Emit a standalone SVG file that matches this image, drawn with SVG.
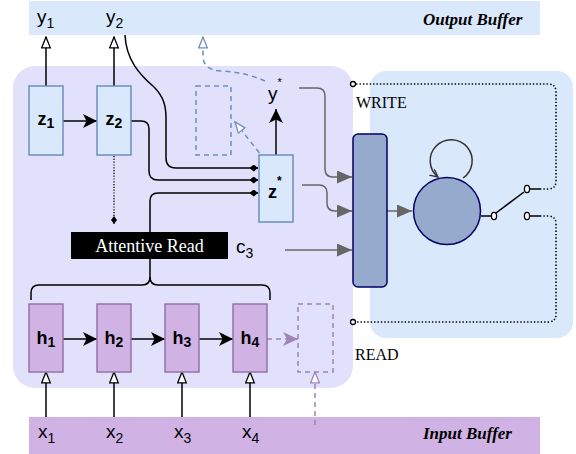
<svg xmlns="http://www.w3.org/2000/svg" width="576" height="454" viewBox="0 0 576 454">
<style>
.sans{font-family:"Liberation Sans",Arial,sans-serif;fill:#000}
.serif{font-family:"Liberation Serif","Times New Roman",serif;fill:#000}
.lbl{font-size:19px}
.sub{font-size:14px}
.bold{font-size:18px;font-weight:bold}
.bsub{font-size:14px;font-weight:bold}
.zbox{fill:#dae8fc;stroke:#6c8ebf;stroke-width:1.5}
.hbox{fill:#d0b2e4;stroke:#9673a6;stroke-width:1.5}
.blk{fill:none;stroke:#000;stroke-width:1.5}
.gry{fill:none;stroke:#666;stroke-width:1.5}
.dblue{fill:none;stroke:#6c8ebf;stroke-width:1.5;stroke-dasharray:5 4}
.dpur{fill:none;stroke:#a084b6;stroke-width:1.5;stroke-dasharray:5 4}
.dot{fill:none;stroke:#000;stroke-width:1.6;stroke-dasharray:1.4 2}
.term{fill:#fff;stroke:#000;stroke-width:1.3}
</style>
<defs>
<marker id="aBlk" markerUnits="userSpaceOnUse" markerWidth="15" markerHeight="15" refX="14" refY="7" orient="auto"><path d="M0,0 L14,7 L0,14 L3.5,7 z" fill="#000"/></marker>
<marker id="aOpen" markerUnits="userSpaceOnUse" markerWidth="13" markerHeight="12" refX="11.5" refY="5" orient="auto"><path d="M0.7,0.7 L11.5,5 L0.7,9.3 z" fill="#fff" stroke="#000" stroke-width="1.3"/></marker>
<marker id="aOpenB" markerUnits="userSpaceOnUse" markerWidth="13" markerHeight="12" refX="11.5" refY="5" orient="auto"><path d="M0.7,0.7 L11.5,5 L0.7,9.3 z" fill="#fff" stroke="#6c8ebf" stroke-width="1.3"/></marker>
<marker id="aOpenP" markerUnits="userSpaceOnUse" markerWidth="13" markerHeight="12" refX="11.5" refY="5" orient="auto"><path d="M0.7,0.7 L11.5,5 L0.7,9.3 z" fill="#fff" stroke="#a084b6" stroke-width="1.3"/></marker>
<marker id="aGry" markerUnits="userSpaceOnUse" markerWidth="16" markerHeight="14" refX="15" refY="6.5" orient="auto"><path d="M0,0 L15,6.5 L0,13 z" fill="#666"/></marker>
<marker id="aPur" markerUnits="userSpaceOnUse" markerWidth="16" markerHeight="15" refX="15" refY="7" orient="auto"><path d="M0,0 L15,7 L0,14 L4,7 z" fill="#a084b6"/></marker>
<marker id="dia" markerUnits="userSpaceOnUse" markerWidth="9" markerHeight="8" refX="8.5" refY="3.5" orient="auto"><path d="M0,3.5 L4.25,0 L8.5,3.5 L4.25,7 z" fill="#000"/></marker>
<marker id="diaS" markerUnits="userSpaceOnUse" markerWidth="9" markerHeight="7" refX="8" refY="3" orient="auto"><path d="M0,3 L4,0 L8,3 L4,6 z" fill="#000"/></marker>
<marker id="aV" markerUnits="userSpaceOnUse" markerWidth="10" markerHeight="10" refX="8" refY="4" orient="auto"><path d="M0,0 L8,4 L0,8" fill="none" stroke="#333" stroke-width="1.3"/></marker>
</defs>

<!-- backgrounds -->
<g id="panel-encoder"><rect x="13" y="66" width="340" height="322" rx="22" fill="#e1e1fb"/></g>
<g id="panel-memory"><rect x="370" y="71" width="203" height="267" rx="16" fill="#dae8fc"/></g>
<g id="output-buffer"><rect x="29" y="1" width="511" height="34" fill="#dae8fc"/>
<text class="serif" x="423" y="25" font-size="17" font-weight="bold" font-style="italic">Output Buffer</text></g>
<g id="input-buffer"><rect x="29" y="417" width="511" height="37" fill="#d0b2e4"/>
<text class="serif" x="423" y="439" font-size="17" font-weight="bold" font-style="italic">Input Buffer</text></g>

<!-- connectors -->
<g id="connectors">
<path class="blk" d="M46,86 L46,37" marker-end="url(#aOpen)"/>
<path class="blk" d="M114,86 L114,37" marker-end="url(#aOpen)"/>
<path class="blk" d="M63,121 L97,121" marker-end="url(#aBlk)"/>
<path class="blk" d="M125,35 C126,60 140,75 154,87 C163,96 166,105 166,118 L166,158 Q166,168 176,168 L258,168" marker-end="url(#dia)"/>
<path class="blk" d="M131,121 L141,121 Q149,121 149,129 L149,171 Q149,180 158,180 L258,180" marker-end="url(#dia)"/>
<path class="blk" d="M150,232 L150,201 Q150,193 158,193 L258,193" marker-end="url(#dia)"/>
<path class="dot" style="stroke-dasharray:1.2 1.6;stroke-width:1.3" d="M114,156 L114,224" marker-end="url(#diaS)"/>
<path class="blk" d="M150,259 L150,277 Q150,285 142,285 L39,285 Q31,285 31,293 L31,300"/>
<path class="blk" d="M150,277 Q150,285 158,285 L262,285 Q270,285 270,293 L270,300"/>
<path class="blk" d="M63,339 L97,339" marker-end="url(#aBlk)"/>
<path class="blk" d="M131,339 L165,339" marker-end="url(#aBlk)"/>
<path class="blk" d="M199,339 L233,339" marker-end="url(#aBlk)"/>
<path class="dpur" d="M267,339 L298,339" marker-end="url(#aPur)"/>
<path class="blk" d="M46,417 L46,372" marker-end="url(#aOpen)"/>
<path class="blk" d="M114,417 L114,372" marker-end="url(#aOpen)"/>
<path class="blk" d="M182,417 L182,372" marker-end="url(#aOpen)"/>
<path class="blk" d="M250,417 L250,372" marker-end="url(#aOpen)"/>
<path class="dpur" d="M315,425 L315,372" marker-end="url(#aOpenP)"/>
<path class="blk" d="M276,155 L276,109" marker-end="url(#aBlk)"/>
<path class="dblue" d="M265,160 L235,122" marker-end="url(#aOpenB)"/>
<path class="dblue" d="M265,81 Q245,72 221,71 Q203,70 203,56 L203,37" marker-end="url(#aOpenB)"/>
<path class="gry" d="M299,88 L317,88 Q325,88 325,96 L325,169 Q325,177 333,177 L352,177" marker-end="url(#aGry)"/>
<path class="gry" d="M302,185 L319,185 Q327,185 327,193 L327,203 Q327,211 335,211 L352,211" marker-end="url(#aGry)"/>
<path class="gry" d="M285,250 L352,250" marker-end="url(#aGry)"/>
<path class="gry" d="M387,211 L412,211" marker-end="url(#aGry)"/>
<path d="M463,178 A21,21 0 1 0 438,177" fill="none" stroke="#333" stroke-width="1.5" marker-end="url(#aV)"/>
<path class="blk" d="M481,216 L491,216"/>
<path class="blk" d="M496,213 L524,192"/>
<path class="blk" d="M530,189 L540,189"/>
<path class="blk" d="M530,216 L540,216"/>
<path class="dot" d="M540,189 L548,189 Q556,189 556,181 L556,92 Q556,84 548,84 L356,84"/>
<path class="dot" d="M540,216 L548,216 Q556,216 556,224 L556,314 Q556,322 548,322 L356,322"/>
<circle class="term" cx="353" cy="84" r="2.5"/>
<circle class="term" cx="353" cy="322" r="2.5"/>
<ellipse class="term" cx="494" cy="216" rx="2.6" ry="3.6"/>
<ellipse class="term" cx="527" cy="189" rx="2.6" ry="3.6"/>
<ellipse class="term" cx="527" cy="216" rx="2.6" ry="3.6"/>
</g>

<!-- nodes -->
<g id="y1"><text class="sans lbl" x="37" y="23">y<tspan class="sub" dy="5">1</tspan></text></g>
<g id="y2"><text class="sans lbl" x="106" y="23">y<tspan class="sub" dy="5">2</tspan></text></g>
<g id="z1"><rect class="zbox" x="29" y="86" width="34" height="69"/><text class="sans bold" x="46" y="125" text-anchor="middle">z<tspan class="bsub" dy="3">1</tspan></text></g>
<g id="z2"><rect class="zbox" x="97" y="86" width="34" height="69"/><text class="sans bold" x="114" y="125" text-anchor="middle">z<tspan class="bsub" dy="3">2</tspan></text></g>
<g id="ghost-z"><rect class="dblue" x="196" y="86" width="35" height="69"/></g>
<g id="ystar"><text class="sans lbl" x="268" y="100">y<tspan font-size="11" dy="-14">*</tspan></text></g>
<g id="zstar"><rect class="zbox" x="259" y="155" width="34" height="67"/><text class="sans bold" x="268" y="198">z<tspan font-size="12" dy="-13">*</tspan></text></g>
<g id="attentive-read"><rect x="71" y="232" width="157" height="27" fill="#000"/><text class="serif" x="149.5" y="252" font-size="18" style="fill:#fff" text-anchor="middle">Attentive Read</text></g>
<g id="c3"><text class="sans lbl" x="236" y="253">c<tspan class="sub" dy="5">3</tspan></text></g>
<g id="h1"><rect class="hbox" x="29" y="304" width="34" height="68"/><text class="sans bold" x="46" y="344" text-anchor="middle">h<tspan class="bsub" dy="3">1</tspan></text></g>
<g id="h2"><rect class="hbox" x="97" y="304" width="34" height="68"/><text class="sans bold" x="114" y="344" text-anchor="middle">h<tspan class="bsub" dy="3">2</tspan></text></g>
<g id="h3"><rect class="hbox" x="165" y="304" width="34" height="68"/><text class="sans bold" x="182" y="344" text-anchor="middle">h<tspan class="bsub" dy="3">3</tspan></text></g>
<g id="h4"><rect class="hbox" x="233" y="304" width="34" height="68"/><text class="sans bold" x="250" y="344" text-anchor="middle">h<tspan class="bsub" dy="3">4</tspan></text></g>
<g id="ghost-h"><rect class="dpur" x="298" y="304" width="35" height="68"/></g>
<g id="x1"><text class="sans lbl" x="38" y="438">x<tspan class="sub" dy="5">1</tspan></text></g>
<g id="x2"><text class="sans lbl" x="106" y="438">x<tspan class="sub" dy="5">2</tspan></text></g>
<g id="x3"><text class="sans lbl" x="174" y="438">x<tspan class="sub" dy="5">3</tspan></text></g>
<g id="x4"><text class="sans lbl" x="242" y="438">x<tspan class="sub" dy="5">4</tspan></text></g>
<g id="memory"><rect x="353" y="134" width="34" height="153" rx="5" fill="#96aacd" stroke="#000066" stroke-width="1.5"/></g>
<g id="controller"><circle cx="447" cy="211" r="33.5" fill="#96aacd" stroke="#000066" stroke-width="1.5"/></g>
<g id="write-label"><text class="serif" x="356" y="108" font-size="16">WRITE</text></g>
<g id="read-label"><text class="serif" x="355" y="360" font-size="16">READ</text></g>
</svg>
